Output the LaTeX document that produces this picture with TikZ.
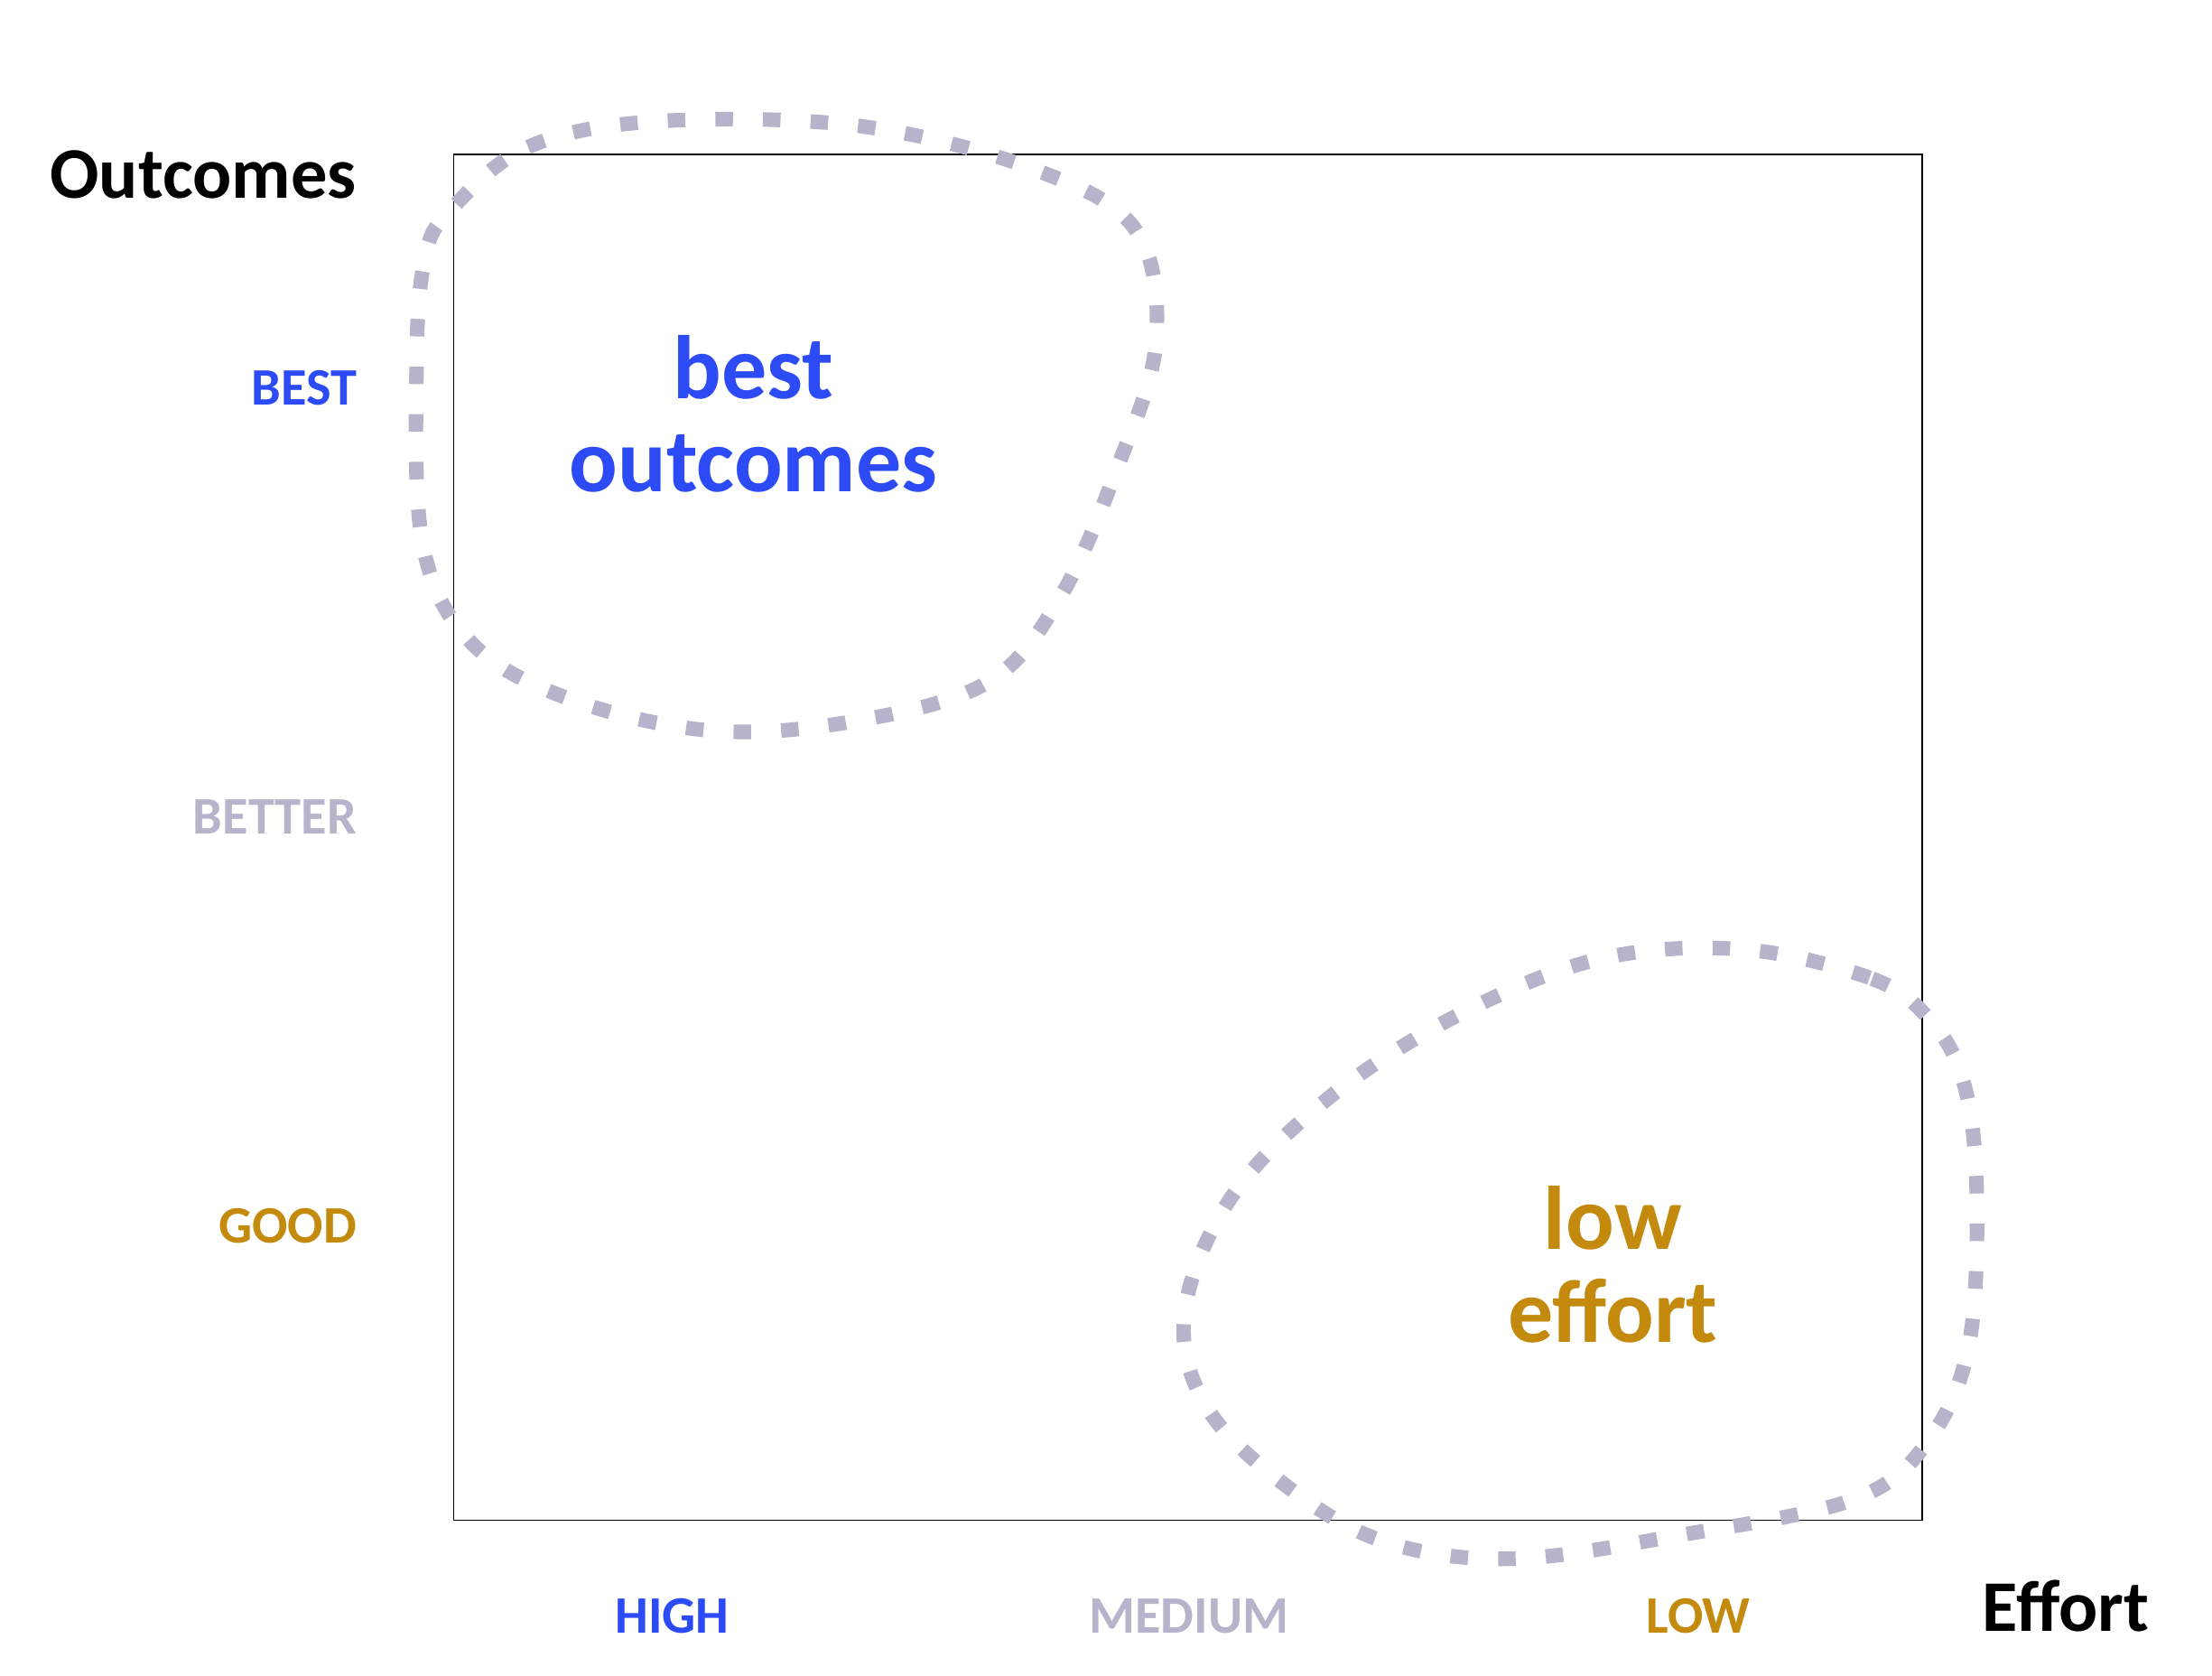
\documentclass[tikz,border=0pt]{standalone}
\usepackage{fontspec}
\setmainfont{Carlito}
\definecolor{blu}{RGB}{45,75,245}
\definecolor{gry}{RGB}{182,180,202}
\definecolor{gld}{RGB}{196,138,14}
\begin{document}
\begin{tikzpicture}[x=0.02cm,y=-0.02cm,
 lab/.style={font=\bfseries\fontsize{21}{24}\selectfont,anchor=base east},
 ax/.style={font=\bfseries\fontsize{21}{24}\selectfont,anchor=base},
 big/.style={font=\bfseries\fontsize{36}{37}\selectfont,align=center},
 blob/.style={gry,line width=5.8pt,dash pattern=on 7pt off 12pt}]
\useasboundingbox (0,0) rectangle (1550,1174);
\draw[line width=0.6pt] (318,108) rectangle (1347,1065);
\node[font=\bfseries\fontsize{29}{30}\selectfont,anchor=base east] (o) at (256,139) {Outcomes};
\node[font=\bfseries\fontsize{29}{30}\selectfont,anchor=base west] (e) at (1383,1143) {Effort};
\node[lab,blu] (best) at (256,284) {BEST};
\node[lab,gry] (better) at (256,584) {BETTER};
\node[lab,gld] (good) at (256,871) {GOOD};
\node[ax,blu] (high) at (471,1144) {HIGH};
\node[ax,gry] (med) at (833,1144) {MEDIUM};
\node[ax,gld] (low) at (1190,1144) {LOW};
\node[big,blu] (bo) at (528,290) {best\\outcomes};
\node[big,gld] (le) at (1130,886) {low\\effort};
\draw[blob] plot[smooth cycle,tension=0.6] coordinates {(315,148)(370,103)(460,85)(600,88)(720,117)(795,160)(810,240)(782,330)(742,420)(692,478)(600,505)(500,512)(400,490)(330,450)(296,380)(292,250)(298,180)};
\draw[blob] plot[smooth cycle,tension=0.6] coordinates {(1350,712)(1310,685)(1220,665)(1120,672)(1020,712)(930,770)(862,840)(830,920)(845,985)(900,1040)(970,1080)(1060,1092)(1180,1075)(1300,1050)(1352,1008)(1380,940)(1385,830)(1375,755)};
\end{tikzpicture}
\end{document}
